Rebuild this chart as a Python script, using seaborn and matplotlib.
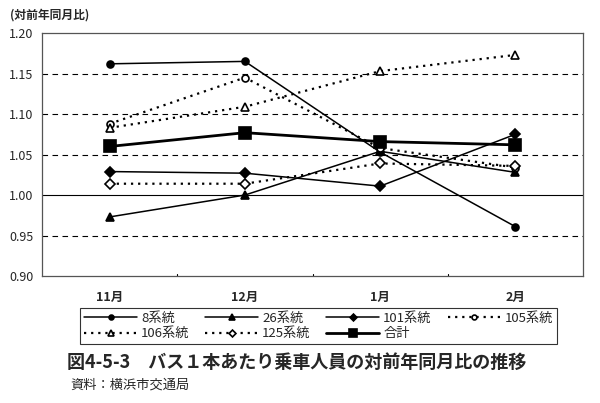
import matplotlib
matplotlib.use("Agg")
import matplotlib.pyplot as plt
import seaborn as sns
import pandas as pd

sns.set_style("white")
plt.rcParams['font.family'] = ['Noto Sans CJK JP', 'DejaVu Sans']

# data
months = ["11月", "12月", "1月", "2月"]
s8 = [1.162, 1.165, 1.053, 0.961]
s26 = [0.973, 1.000, 1.054, 1.028]
s101 = [1.029, 1.027, 1.011, 1.075]
s105 = [1.088, 1.145, 1.058, 1.034]
s106 = [1.083, 1.109, 1.153, 1.173]
s125 = [1.014, 1.014, 1.039, 1.036]
total = [1.060, 1.077, 1.066, 1.062]

names = ["8系統", "26系統", "101系統", "105系統", "106系統", "125系統", "合計"]
series = [s8, s26, s101, s105, s106, s125, total]

dot = (0, (1, 2.2))
styles = {
    "8系統": dict(ls="-", lw=1.1, marker="o", ms=5, mfc="black"),
    "26系統": dict(ls="-", lw=1.1, marker="^", ms=6, mfc="black"),
    "101系統": dict(ls="-", lw=1.1, marker="D", ms=5, mfc="black"),
    "105系統": dict(ls=dot, lw=1.6, marker="o", ms=5, mfc="white"),
    "106系統": dict(ls=dot, lw=1.6, marker="^", ms=6, mfc="white"),
    "125系統": dict(ls=dot, lw=1.6, marker="D", ms=5, mfc="white"),
    "合計": dict(ls="-", lw=2.0, marker="s", ms=9, mfc="black"),
}

fig = plt.figure(figsize=(6.0, 4.03), dpi=100)
ax = fig.add_axes([0.07, 0.315, 0.9017, 0.603])

for name, vals in zip(names, series):
    st = styles[name]
    df = pd.DataFrame({"x": range(len(months)), "y": vals})
    sns.lineplot(data=df, x="x", y="y", ax=ax, color="black", label=name,
                 linestyle=st["ls"], linewidth=st["lw"], marker=st["marker"],
                 markersize=st["ms"], markerfacecolor=st["mfc"],
                 markeredgecolor="black", markeredgewidth=1.2)

ax.set_xlim(-0.5, 3.5)
ax.set_ylim(0.90, 1.20)
ax.set_yticks([0.90, 0.95, 1.00, 1.05, 1.10, 1.15, 1.20])
ax.set_yticklabels(["0.90", "0.95", "1.00", "1.05", "1.10", "1.15", "1.20"], fontsize=9)
ax.set_xticks(range(len(months)))
ax.set_xticklabels(months, fontsize=9, fontweight="bold")
ax.tick_params(axis="x", length=0, pad=11)
ax.tick_params(axis="y", length=0, pad=6)
for b in [0.5, 1.5, 2.5]:
    ax.plot([b, b], [0.90, 0.903], color="black", lw=0.8)
ax.set_xlabel("")
ax.set_ylabel("")

for v in [0.95, 1.05, 1.10, 1.15]:
    ax.axhline(v, color="black", lw=0.8, ls=(0, (5, 4)), zorder=0)
ax.axhline(1.00, color="black", lw=0.8, zorder=0)

for sp in ax.spines.values():
    sp.set_color("#555555")
    sp.set_linewidth(0.9)

ax.get_legend().remove()
handles, labels = ax.get_legend_handles_labels()
# fill the legend row by row: 8,26,101,105 / 106,125,合計
order = [0, 4, 1, 5, 2, 6, 3]
leg = fig.legend([handles[i] for i in order], [labels[i] for i in order],
                 ncol=4, loc="upper left",
                 bbox_to_anchor=(0.123, 0.253), fontsize=9.5,
                 frameon=True, fancybox=False, edgecolor="black",
                 handlelength=4.0, columnspacing=1.2, handletextpad=0.3,
                 borderpad=0.3, labelspacing=0.2, markerscale=0.7)
leg.get_frame().set_linewidth(0.8)

fig.text(0.017, 0.953, "(対前年同月比)", fontsize=8.5, fontweight="bold")
fig.text(0.112, 0.086, "図4-5-3　バス１本あたり乗車人員の対前年同月比の推移",
         fontsize=13.0, fontweight="bold")
fig.text(0.118, 0.035, "資料：横浜市交通局", fontsize=9.5)

fig.savefig("out.png", dpi=100)
